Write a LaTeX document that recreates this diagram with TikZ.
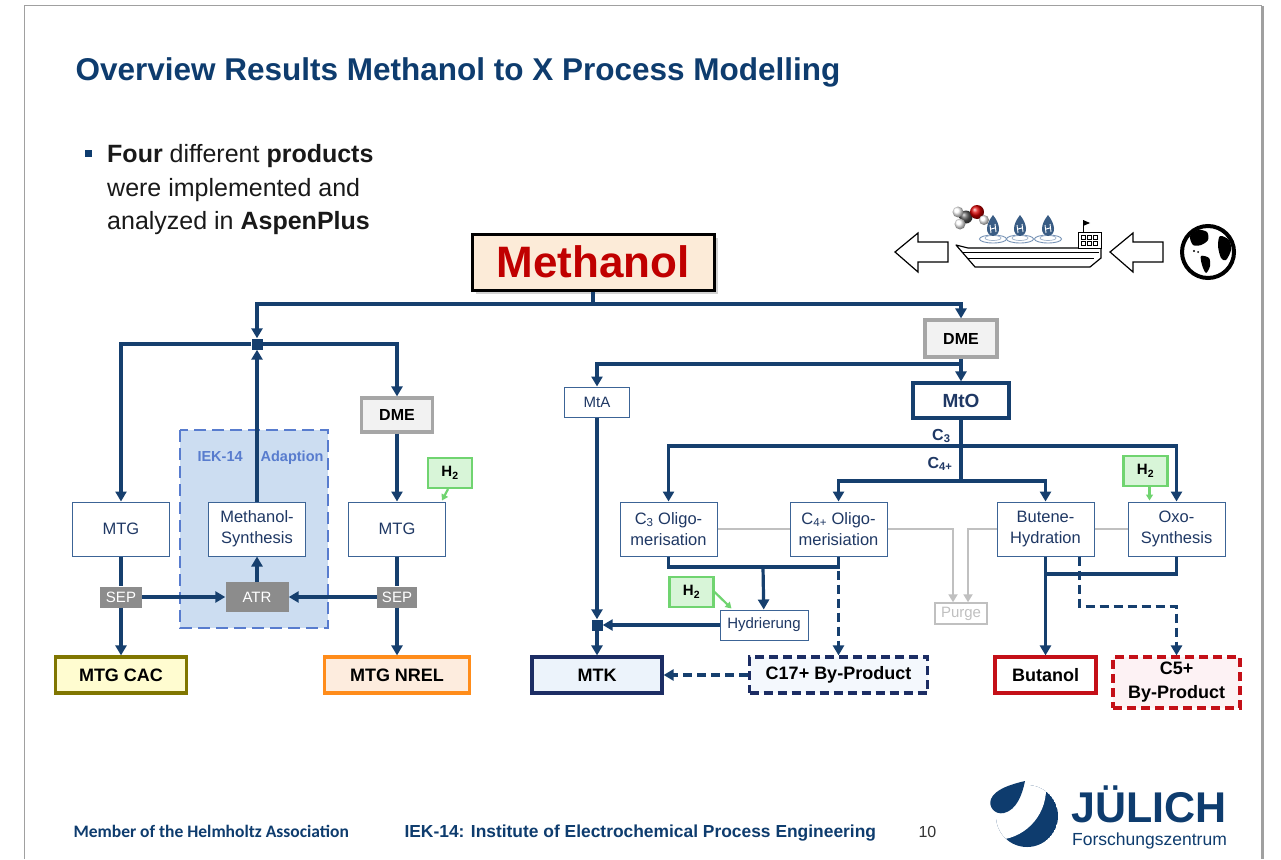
\documentclass[tikz,border=0pt]{standalone}
\usepackage{fontspec}
\setmainfont{Liberation Sans}
\newfontfamily\footfont{Carlito}
\usetikzlibrary{arrows.meta,shadows}

\definecolor{titleblue}{RGB}{14,60,110}
\definecolor{flowblue}{RGB}{22,63,110}
\definecolor{procblue}{RGB}{60,100,150}
\definecolor{boxtext}{RGB}{31,56,100}
\definecolor{iekfill}{RGB}{204,221,241}
\definecolor{iekline}{RGB}{88,124,206}
\definecolor{sepgray}{RGB}{140,140,140}
\definecolor{dmegray}{RGB}{166,166,166}
\definecolor{dmefill}{RGB}{242,242,242}
\definecolor{hgreen}{RGB}{112,212,112}
\definecolor{hfill}{RGB}{216,245,216}
\definecolor{cacline}{RGB}{128,118,0}
\definecolor{cacfill}{RGB}{255,252,208}
\definecolor{nrelline}{RGB}{255,140,26}
\definecolor{nrelfill}{RGB}{253,236,222}
\definecolor{mtkline}{RGB}{28,45,100}
\definecolor{mtkfill}{RGB}{236,243,251}
\definecolor{redline}{RGB}{196,16,24}
\definecolor{c5fill}{RGB}{253,242,244}
\definecolor{methfill}{RGB}{252,235,216}
\definecolor{methred}{RGB}{192,0,0}
\definecolor{purgegray}{RGB}{192,192,192}
\definecolor{frame}{RGB}{160,160,160}

\begin{document}
\begin{tikzpicture}[x=1pt,y=-1pt,
  flow/.style={draw=flowblue, line width=3.2pt, -{Triangle[length=10pt,width=11pt]}},
  link/.style={draw=flowblue, line width=3.2pt},
  proc/.style={draw=procblue, line width=1pt, fill=white, text=boxtext, minimum width=97pt,
    minimum height=54pt, inner sep=0pt, align=center, font=\fontsize{16.5}{21}\selectfont},
  unit/.style={proc, minimum height=30pt, font=\fontsize{15}{18}\selectfont},
  sepbox/.style={fill=sepgray, text=white, inner sep=0pt, font=\fontsize{15}{18}\selectfont},
  prod/.style={line width=3.2pt, inner sep=0pt, minimum height=36pt, align=center,
    font=\bfseries\fontsize{18}{22}\selectfont},
  dmebox/.style={draw=dmegray, fill=dmefill, line width=3.2pt, inner sep=0pt,
    font=\bfseries\fontsize{16}{20}\selectfont},
  hbox/.style={draw=hgreen, fill=hfill, line width=2.2pt, minimum width=44pt, minimum height=30pt,
    inner sep=0pt, font=\bfseries\fontsize{15}{18}\selectfont},
  hflow/.style={draw=hgreen, line width=2.2pt, -{Triangle[length=6pt,width=7pt]}},
  purgeflow/.style={draw=purgegray, line width=2.6pt, -{Triangle[length=8pt,width=9pt]}},
  dot/.style={fill=flowblue, minimum size=11pt, inner sep=0pt},
  longdash/.style={dash pattern=on 9pt off 5pt}]
\useasboundingbox (0,0) rectangle (1281,859);
\fill[white] (0,0) rectangle (1281,859);
\draw[frame, line width=1pt] (24,859) -- (24,6) -- (1262,6);
\draw[frame, line width=3pt] (1262,6) -- (1262,859);

% title and bullet
\node[anchor=base west, text=titleblue, font=\bfseries\fontsize{31.5}{36}\selectfont] (title) at (72,80) {Overview Results Methanol to X Process Modelling};
\fill[titleblue] (85,150) rectangle (92,157);
\begin{scope}[every node/.style={anchor=base west, inner sep=0pt, text=black!90, font=\fontsize{25}{30}\selectfont}]
\node (line1) at (107,162) {\textbf{Four} different \textbf{products}};
\node (line2) at (107,196) {were implemented and};
\node (line3) at (107,229) {analyzed in \textbf{AspenPlus}};
\end{scope}

% IEK-14 area
\draw[iekline, fill=iekfill, line width=2.6pt, dash pattern=on 12pt off 6pt] (180,430) rectangle (328,628);
\node[anchor=base west, text=iekline, font=\bfseries\fontsize{14.5}{17}\selectfont] (ieklabel) at (194,461) {IEK-14\hspace{18pt}Adaption};

% nodes
\node[draw=black, fill=methfill, text=methred, line width=3pt, minimum width=242pt, minimum height=56pt,
  inner sep=0pt, font=\bfseries\fontsize{44}{50}\selectfont,
  drop shadow={shadow xshift=4pt, shadow yshift=-4pt, opacity=.35}] (meth) at (593,262) {Methanol};
\coordinate (split) at (593,304);
\node[dot] (jl) at (257,344) {};
\node[dmebox, minimum width=71pt, minimum height=34pt] (dmeL) at (397,415) {DME};
\node[proc] (mtgL) at (121,529) {MTG};
\node[proc] (msyn) at (257,529) {Methanol-\\Synthesis};
\node[proc] (mtgR) at (397,529) {MTG};
\node[hbox] (h2a) at (450,473) {H\textsubscript{2}};
\node[sepbox, minimum width=42pt, minimum height=21pt] (sepL) at (121,597) {SEP};
\node[sepbox, minimum width=40pt, minimum height=21pt] (sepR) at (397,597) {SEP};
\node[sepbox, minimum width=63pt, minimum height=30pt] (atr) at (257,597) {ATR};
\node[prod, draw=cacline, fill=cacfill, minimum width=131pt] (cac) at (121,675) {MTG CAC};
\node[prod, draw=nrelline, fill=nrelfill, minimum width=145pt] (nrel) at (397,675) {MTG NREL};

\node[dmebox, minimum width=72pt, minimum height=37pt] (dmeR) at (961,338.5) {DME};
\coordinate (dmesplit) at (961,364);
\node[draw=flowblue, fill=white, text=boxtext, line width=3.2pt, minimum width=96pt, minimum height=35pt,
  inner sep=0pt, font=\bfseries\fontsize{19}{22}\selectfont] (mto) at (961,400.5) {MtO};
\node[unit, minimum width=65pt] (mta) at (597,402) {MtA};
\coordinate (c3) at (961,446);
\coordinate (c4) at (961,481);
\node[anchor=east, text=boxtext, font=\bfseries\fontsize{16}{19}\selectfont] (c3lab) at (954,436) {C\textsubscript{3}};
\node[anchor=east, text=boxtext, font=\bfseries\fontsize{16}{19}\selectfont] (c4lab) at (956,464) {C\textsubscript{4+}};
\node[proc] (c3oli) at (668.5,529) {C\textsubscript{3} Oligo-\\merisation};
\node[proc] (c4oli) at (838.5,529) {C\textsubscript{4+} Oligo-\\merisiation};
\node[proc] (buth) at (1045.5,529) {Butene-\\Hydration};
\node[proc] (oxo) at (1176.5,529) {Oxo-\\Synthesis};
\node[hbox] (h2b) at (691.5,592) {H\textsubscript{2}};
\node[hbox] (h2c) at (1145.5,471) {H\textsubscript{2}};
\coordinate (olimerge) at (763,567);
\node[unit, minimum width=88pt] (hyd) at (764,625) {Hydrierung};
\node[dot] (jm) at (597,625) {};
\node[draw=purgegray, text=purgegray, line width=1.5pt, minimum width=52pt, minimum height=21pt,
  inner sep=0pt, font=\fontsize{15}{18}\selectfont] (purge) at (961,613.5) {Purge};
\coordinate (oxomerge) at (1045.5,574);
\node[prod, draw=mtkline, fill=mtkfill, minimum width=130pt] (mtk) at (597,675) {MTK};
\node[prod, draw=mtkline, fill=mtkfill!60, longdash, minimum width=178pt] (c17) at (838.5,675) {C17+ By-Product};
\node[prod, draw=redline, fill=white, minimum width=101pt] (butanol) at (1045.5,675) {Butanol};
\node[prod, draw=redline, fill=c5fill, longdash, minimum width=127pt, minimum height=51pt,
  font=\bfseries\fontsize{18}{24}\selectfont] (c5) at (1176.5,682.5) {C5+\\By-Product};

% connectors, left part
\draw[flow] (meth) -- (split) -| (jl);
\draw[flow] (split) -| (dmeR);
\draw[flow] (jl) -| (mtgL);
\draw[flow] (jl) -| (dmeL);
\draw[flow] (dmeL) -- (mtgR);
\draw[flow] (msyn) -- (jl);
\draw[flow] (atr) -- (msyn);
\draw[link] (mtgL) -- (sepL);
\draw[flow] (sepL) -- (cac);
\draw[link] (mtgR) -- (sepR);
\draw[flow] (sepR) -- (nrel);
\draw[flow] (sepL) -- (atr);
\draw[flow] (sepR) -- (atr);
\draw[hflow] ([xshift=-2pt]h2a.south) -- ([xshift=-4pt,yshift=1pt]mtgR.north east);

% connectors, right part
\draw[flow] (dmeR) -- (mto);
\draw[flow] (dmesplit) -| (mta);
\draw[flow] (mto) -- (c4) -| (buth);
\draw[flow] (c4) -| (c4oli);
\draw[flow] (c3) -| (c3oli);
\draw[flow] (c3) -| (oxo);
\draw[draw=purgegray, line width=2.6pt] (c3oli) -- (c4oli);
\draw[draw=purgegray, line width=2.6pt] (buth) -- (oxo);
\draw[purgeflow] (c4oli.east) -| ([xshift=-8pt]purge.north);
\draw[purgeflow] (buth.west) -| ([xshift=7pt]purge.north);
\draw[link] (c3oli) |- (olimerge) -| (c4oli);
\draw[flow] (olimerge) -- (hyd);
\draw[flow, longdash] (c4oli) -- (c17);
\draw[hflow] (h2b.east) -- ([xshift=12pt,yshift=1pt]hyd.north west);
\draw[flow] (hyd) -- (jm);
\draw[flow] (mta) -- (jm);
\draw[flow] (jm) -- (mtk);
\draw[flow, longdash] (c17) -- (mtk);
\draw[hflow] ([xshift=4pt]h2c.south) -- ([xshift=4pt,yshift=1pt]h2c.south |- oxo.north);
\draw[flow] (buth) -- (butanol);
\draw[link] (oxo) |- (oxomerge);
\draw[flow, longdash] ([xshift=34pt]buth.south) -- ++(0,50) -| (c5);

% import by ship
\draw[line width=1.2pt, fill=white] (895,252) -- (918,233) -- (918,242) -- (948,242) -- (948,262)
  -- (918,262) -- (918,272) -- cycle;
\draw[line width=1.2pt, fill=white] (1110,252) -- (1133,233) -- (1133,242) -- (1163,242) -- (1163,262)
  -- (1133,262) -- (1133,272) -- cycle;
\draw[line width=1.2pt, line join=round] (956,245) -- (968,248) -- (1101,248) -- (1101,258) -- (1090,267)
  -- (975,267) -- cycle;
\draw[line width=1pt] (962,252) -- (1099,252);
\draw[line width=1pt] (968,258) -- (1094,258);
\draw[line width=1pt, fill=white] (1078,232) rectangle (1101,248);
\foreach \wx in {1081,1087,1093} {
  \draw[line width=.6pt] (\wx,235) rectangle ++(4,4);
  \draw[line width=.6pt] (\wx,241) rectangle ++(4,4);
}
\draw[line width=1pt] (1083,232) -- (1083,220);
\fill (1083,220) -- (1090,223) -- (1083,226) -- cycle;
\foreach \dx in {993,1020,1048} {
  \draw[procblue!70, line width=.9pt] (\dx,239) ellipse (13.5pt and 4pt);
  \draw[procblue!50, line width=.7pt] (\dx,238) ellipse (8pt and 2.5pt);
  \fill[flowblue!85] (\dx,215) .. controls (\dx+8,225) and (\dx+8,235) .. (\dx,236)
    .. controls (\dx-8,235) and (\dx-8,225) .. (\dx,215);
  \draw[white, line width=.9pt] (\dx-3,225) -- (\dx-2,233) (\dx+2,224) -- (\dx+3,232) (\dx-2,229) -- (\dx+2,228);
}
\shade[ball color=gray!70!black] (966,217) circle (6.5pt);
\shade[ball color=white] (958,212) circle (5.5pt);
\shade[ball color=white] (960,224) circle (5.5pt);
\shade[ball color=red!85!black] (977,212) circle (7pt);
\shade[ball color=white] (984,220) circle (5pt);

% globe
\draw[line width=4pt] (1208,252) circle (26pt);
\fill plot[smooth cycle, tension=.5] coordinates {(1190,236) (1198,230) (1207,232) (1208,240) (1201,245) (1193,245)};
\fill plot[smooth cycle, tension=.5] coordinates {(1201,256) (1209,258) (1210,266) (1206,273) (1202,265)};
\fill plot[smooth cycle, tension=.5] coordinates {(1220,236) (1229,240) (1231,250) (1226,260) (1221,258) (1218,246)};
\fill (1194,251) circle (1.2pt) (1198,252) circle (1pt);

% footer
\node[anchor=base west, text=titleblue, font=\footfont\bfseries\fontsize{17.5}{20}\selectfont] (helm) at (70,837) {Member of the Helmholtz Association};
\node[anchor=base west, text=titleblue, font=\bfseries\fontsize{17.4}{20}\selectfont] (inst) at (401,837) {IEK-14: Institute of Electrochemical Process Engineering};
\node[anchor=base west, text=black!80, font=\fontsize{16}{20}\selectfont] (page) at (915,837) {10};

% logo
\begin{scope}
\clip (1027,816) circle (31pt);
\fill[titleblue] (1027,816) circle (31pt);
\fill[white] (995,789) circle (51pt);
\end{scope}
\fill[titleblue] (1025,781) .. controls (1022,796) and (1016,810) .. (1004,813)
  .. controls (995,815) and (988,807) .. (991,799) .. controls (995,789) and (1012,784) .. (1025,781);
\node[anchor=base west, inner sep=0pt, text=titleblue, font=\bfseries\fontsize{43}{46}\selectfont] (juelich) at (1071,822) {JÜLICH};
\node[anchor=base west, inner sep=0pt, text=titleblue, font=\fontsize{17.5}{20}\selectfont] (fz) at (1072,845) {Forschungszentrum};
\end{tikzpicture}
\end{document}
